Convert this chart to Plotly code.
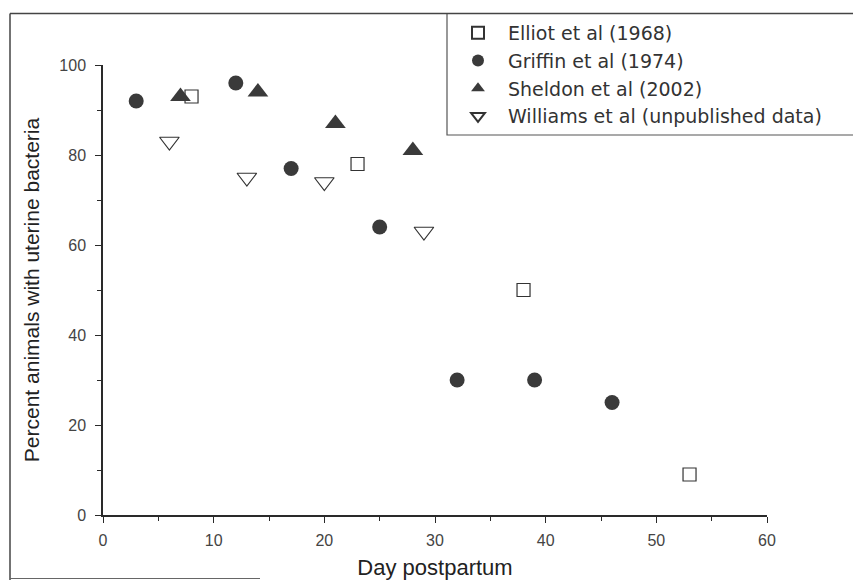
import plotly.graph_objects as go

# ---- data ----
elliot_x = [8, 23, 38, 53]
elliot_y = [93, 78, 50, 9]
griffin_x = [3, 12, 17, 25, 32, 39, 46]
griffin_y = [92, 96, 77, 64, 30, 30, 25]
sheldon_x = [7, 14, 21, 28]
sheldon_y = [93, 94, 87, 81]
williams_x = [6, 13, 20, 29]
williams_y = [83, 75, 74, 63]

names = ["Elliot et al (1968)", "Griffin et al (1974)",
         "Sheldon et al (2002)", "Williams et al (unpublished data)"]

# page has an 8px body margin; size the figure so it fits the 861x580 window
OFF = 8
W, H = 861 - OFF, 580 - OFF
ML, MR, MT, MB = 95, 94, 57, 65
PW, PH = W - ML - MR, H - MT - MB


def px_x(p):  # page pixel -> paper x
    return (p - OFF - ML) / PW


def px_y(p):  # page pixel -> paper y
    return (H - MB - (p - OFF)) / PH


FONT = "Liberation Sans, Arial, sans-serif"
ink = "#333333"
fig = go.Figure()
fig.add_trace(go.Scatter(x=elliot_x, y=elliot_y, mode="markers", name=names[0],
                         marker=dict(symbol="square-open", size=13, color=ink,
                                     line=dict(width=1.2, color=ink))))
fig.add_trace(go.Scatter(x=griffin_x, y=griffin_y, mode="markers", name=names[1],
                         marker=dict(symbol="circle", size=15, color="#3a3a3a",
                                     line=dict(width=0))))
fig.add_trace(go.Scatter(x=sheldon_x, y=sheldon_y, mode="markers", name=names[2],
                         marker=dict(symbol="triangle-up", size=18, color="#3a3a3a",
                                     line=dict(width=0))))
fig.add_trace(go.Scatter(x=williams_x, y=williams_y, mode="markers", name=names[3],
                         marker=dict(symbol="triangle-down-open", size=17, color=ink,
                                     line=dict(width=1.2, color=ink))))

axis_common = dict(
    showline=True, linecolor="#2a2a2a", linewidth=1.5,
    ticks="outside", ticklen=6, tickwidth=1.3, tickcolor="#2a2a2a",
    showgrid=False, zeroline=False, mirror=False,
    tickfont=dict(family=FONT, size=16, color="#444444"),
)

fig.update_xaxes(range=[0, 60], dtick=10, tick0=0,
                 minor=dict(ticks="outside", ticklen=4, dtick=5, tickcolor="#2a2a2a", tickwidth=1.2),
                 title=dict(text="Day postpartum", standoff=15,
                            font=dict(family=FONT, size=22, color="#222222")),
                 automargin=True, ticklabelstandoff=4, **axis_common)
fig.update_yaxes(range=[0, 100], dtick=20, tick0=0,
                 minor=dict(ticks="outside", ticklen=4, dtick=10, tickcolor="#2a2a2a", tickwidth=1.2),
                 title=dict(text="Percent animals with uterine bacteria", standoff=14,
                            font=dict(family=FONT, size=21, color="#222222")),
                 automargin=True, ticklabelstandoff=6, **axis_common)

frame_color = "#444444"
shapes = [
    # legend box (runs off the right edge as in the scanned original)
    dict(type="rect", xref="paper", yref="paper", x0=px_x(447), x1=px_x(880),
         y0=px_y(13.5), y1=px_y(135), fillcolor="white",
         line=dict(color="#555555", width=1.2), layer="above"),
    dict(type="line", xref="paper", yref="paper", x0=px_x(10), x1=px_x(870),
         y0=px_y(13.5), y1=px_y(13.5), line=dict(color=frame_color, width=1.5)),
    dict(type="line", xref="paper", yref="paper", x0=px_x(10), x1=px_x(10),
         y0=px_y(13.5), y1=px_y(590), line=dict(color=frame_color, width=1.5)),
    dict(type="line", xref="paper", yref="paper", x0=px_x(10), x1=px_x(260),
         y0=px_y(578.5), y1=px_y(578.5), line=dict(color="#666666", width=1.2)),
]

fig.update_layout(
    width=W, height=H,
    margin=dict(l=ML, r=MR, t=MT, b=MB, autoexpand=False),
    paper_bgcolor="white", plot_bgcolor="white",
    font=dict(family=FONT, color="#333333"),
    shapes=shapes,
    showlegend=True,
    legend=dict(x=px_x(448), y=px_y(14), xanchor="left", yanchor="top",
                bgcolor="rgba(0,0,0,0)", borderwidth=0,
                itemsizing="constant", itemwidth=50,
                font=dict(family="DejaVu Sans, sans-serif", size=19, color="#333333")),
)

fig.write_html("out.html")
